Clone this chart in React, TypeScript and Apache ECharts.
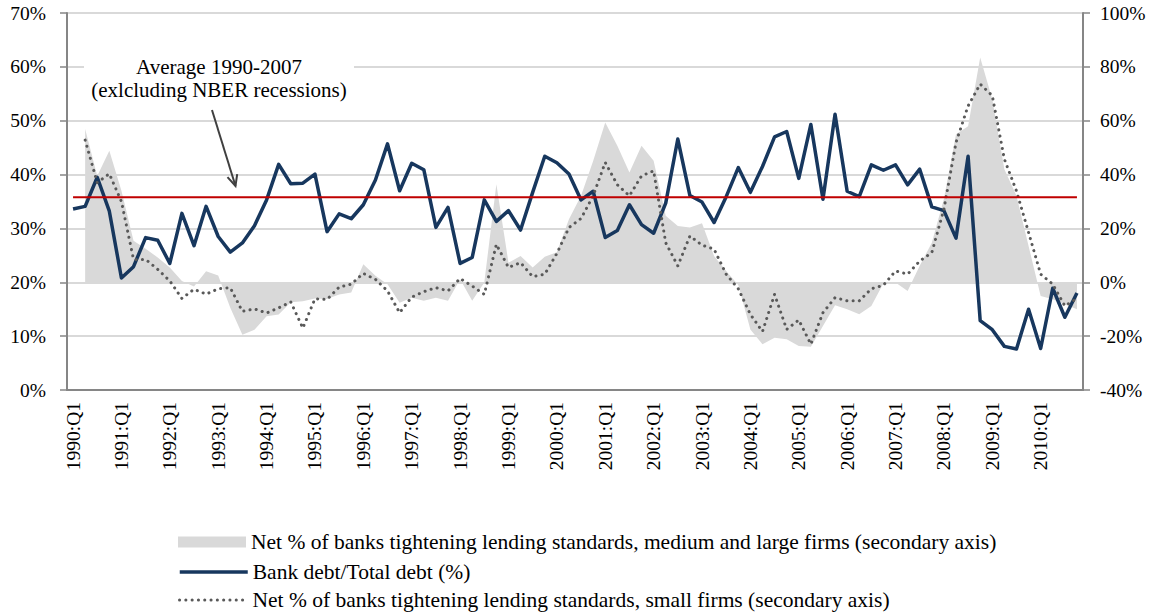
import React, { useEffect, useRef } from "react";
import * as echarts from "echarts";

// ---- data ----
const years = [1990, 1991, 1992, 1993, 1994, 1995, 1996, 1997, 1998, 1999, 2000, 2001, 2002, 2003, 2004, 2005, 2006, 2007, 2008, 2009, 2010];
const quarters = ["Q1", "Q2", "Q3", "Q4"];
const categories: string[] = [];
years.forEach((y) => quarters.forEach((q) => categories.push(`${y}:${q}`)));

const bankDebtShare = [
  33.6, 34.1, 39.5, 33.2, 20.8, 22.9, 28.3, 27.8, 23.5, 32.8, 26.8, 34.1,
  28.5, 25.6, 27.3, 30.5, 35.3, 41.9, 38.3, 38.4, 40.1, 29.4, 32.7, 31.8,
  34.4, 39.0, 45.7, 37.0, 42.1, 40.9, 30.2, 33.9, 23.5, 24.6, 35.3, 31.3,
  33.3, 29.7, 36.7, 43.4, 42.2, 40.1, 35.3, 36.9, 28.3, 29.6, 34.4, 30.7,
  29.1, 34.7, 46.6, 36.1, 34.9, 31.1, 35.9, 41.3, 36.7, 41.5, 47.0, 48.0,
  39.3, 49.3, 35.4, 51.2, 36.9, 35.9, 41.8, 40.8, 41.8, 38.1, 41.0, 34.0,
  33.3, 28.2, 43.4, 12.9, 11.2, 8.1, 7.6, 15.0, 7.7, 18.9, 13.5, 18.0,
];

const tighteningSmall = [
  null, 52.8, 37.0, 40.3, 30.0, 8.5, 8.5, 4.8, 0.5, -6.0, -2.6, -4.4,
  -2.4, -2.0, -10.8, -9.9, -11.4, -9.5, -7.3, -17.0, -6.1, -6.4, -1.8, -0.7,
  3.3, 1.1, -3.2, -11.3, -5.5, -3.5, -2.0, -3.2, 1.4, -1.4, -4.5, 14.1,
  5.5, 7.3, 2.1, 3.0, 10.7, 20.3, 23.7, 32.1, 44.5, 36.2, 32.1, 39.5,
  41.4, 14.7, 6.1, 17.2, 13.8, 12.3, 3.0, -2.4, -11.9, -18.3, -4.5, -17.5,
  -14.0, -23.0, -11.3, -5.7, -6.9, -6.9, -2.4, -1.1, 4.2, 3.0, 7.9, 11.0,
  27.1, 51.9, 65.5, 73.6, 69.3, 45.7, 33.9, 18.5, 3.0, -0.7, -8.8, -6.0,
];

const tighteningLarge = [
  null, 56.9, 39.5, 48.8, 34.0, 15.4, 12.5, 9.2, 5.5, 0.5, -1.6, 4.1,
  2.5, -9.5, -19.5, -17.6, -12.6, -12.0, -7.4, -7.0, -6.0, -6.2, -4.5, -3.8,
  6.7, 2.4, -0.7, -7.6, -5.7, -6.9, -5.7, -6.9, 1.1, -6.9, -0.1, 36.4,
  7.3, 9.8, 5.5, 9.5, 11.2, 23.4, 32.1, 45.0, 59.3, 50.7, 40.8, 50.7,
  45.1, 24.7, 20.9, 20.3, 21.9, 9.8, 4.2, -1.0, -17.5, -23.0, -20.6, -21.2,
  -23.7, -23.9, -16.2, -8.5, -10.0, -11.9, -8.8, -0.4, -0.1, -3.2, 6.1, 14.7,
  30.9, 55.0, 57.9, 83.5, 68.0, 42.0, 32.1, 13.5, -5.1, -6.3, -8.2, -10.0,
];

const averageLevel = 35.8;
const averageLine = categories.map(() => averageLevel);

const nameLarge = "Net % of banks tightening lending standards, medium and large firms (secondary axis)";
const nameBank = "Bank debt/Total debt (%)";
const nameSmall = "Net % of banks tightening lending standards, small firms (secondary axis)";

const FONT = "'Liberation Serif', 'Times New Roman', serif";
const AXIS_GRAY = "#868686";
const TICK_FONT = 19.5;

const legendBase = {
  orient: "horizontal",
  left: 173,
  itemWidth: 68,
  itemHeight: 11,
  textStyle: { fontFamily: FONT, fontSize: 21.5, color: "#000" },
};
const hiddenSymbol = { color: "rgba(0,0,0,0)", borderWidth: 0, opacity: 0 };

export default function App() {
  const ref = useRef<HTMLDivElement>(null);
  useEffect(() => {
    if (!ref.current) return;
    const chart = echarts.init(ref.current, undefined, { renderer: "svg" });
    chart.setOption({
      animation: false,
      textStyle: { fontFamily: FONT, color: "#000" },
      grid: { left: 67, right: 73, top: 13, bottom: 224, outerBoundsMode: "none" },
      legend: [
        { ...legendBase, top: 526, data: [{ name: nameLarge, icon: "rect" }] },
        {
          ...legendBase,
          top: 556,
          data: [{ name: nameBank, itemStyle: hiddenSymbol, lineStyle: { width: 3.5 } }],
        },
        {
          ...legendBase,
          top: 584,
          data: [{ name: nameSmall, itemStyle: hiddenSymbol, lineStyle: { width: 3 } }],
        },
      ],
      xAxis: {
        type: "category",
        data: categories,
        axisLine: { lineStyle: { color: AXIS_GRAY, width: 2 } },
        axisTick: { interval: 0, length: 5, lineStyle: { color: AXIS_GRAY, width: 1.5 } },
        axisLabel: {
          interval: 3,
          rotate: 90,
          margin: 12,
          fontSize: TICK_FONT,
          fontFamily: FONT,
          color: "#000",
        },
        splitLine: { show: false },
      },
      yAxis: [
        {
          type: "value",
          min: 0,
          max: 70,
          interval: 10,
          axisLine: { show: true, lineStyle: { color: AXIS_GRAY, width: 2 } },
          axisTick: { show: true, length: 7, lineStyle: { color: AXIS_GRAY, width: 1.5 } },
          axisLabel: { formatter: "{value}%", fontSize: TICK_FONT, fontFamily: FONT, color: "#000", margin: 21 },
          splitLine: { show: true, lineStyle: { color: "#d9d9d9", width: 2 } },
        },
        {
          type: "value",
          min: -40,
          max: 100,
          interval: 20,
          position: "right",
          axisLine: { show: true, lineStyle: { color: AXIS_GRAY, width: 2 } },
          axisTick: { show: true, length: 7, lineStyle: { color: AXIS_GRAY, width: 1.5 } },
          axisLabel: { formatter: "{value}%", fontSize: TICK_FONT, fontFamily: FONT, color: "#000", margin: 17 },
          splitLine: { show: false },
        },
      ],
      series: [
        {
          name: nameLarge,
          type: "line",
          yAxisIndex: 1,
          data: tighteningLarge,
          symbol: "none",
          color: "#d9d9d9",
          itemStyle: { color: "#d9d9d9" },
          lineStyle: { width: 0, color: "#d9d9d9" },
          areaStyle: { color: "#d9d9d9", opacity: 1, origin: 0 },
          z: 1,
        },
        {
          name: nameBank,
          type: "line",
          yAxisIndex: 0,
          data: bankDebtShare,
          symbol: "none",
          color: "#17375e",
          lineStyle: { width: 3.5, color: "#17375e", join: "round" },
          z: 3,
        },
        {
          name: nameSmall,
          type: "line",
          yAxisIndex: 1,
          data: tighteningSmall,
          symbol: "none",
          color: "#595959",
          lineStyle: { width: 3, color: "#595959", type: [0.1, 6.2], cap: "round" },
          z: 4,
        },
        {
          name: "Average 1990-2007",
          type: "line",
          yAxisIndex: 0,
          data: averageLine,
          symbol: "none",
          color: "#c00000",
          lineStyle: { width: 2, color: "#c00000" },
          z: 5,
        },
      ],
      graphic: [
        {
          type: "rect",
          z: 90,
          shape: { x: 84, y: 54, width: 270, height: 50 },
          style: { fill: "#fff" },
        },
        {
          type: "text",
          z: 100,
          x: 219,
          y: 67,
          style: {
            text: "Average 1990-2007",
            fontFamily: FONT,
            fontSize: 21,
            fill: "#000",
            align: "center",
            verticalAlign: "middle",
          },
        },
        {
          type: "text",
          z: 100,
          x: 219,
          y: 90,
          style: {
            text: "(exlcluding NBER recessions)",
            fontFamily: FONT,
            fontSize: 21,
            fill: "#000",
            align: "center",
            verticalAlign: "middle",
          },
        },
        {
          type: "line",
          z: 100,
          shape: { x1: 212, y1: 110, x2: 235.5, y2: 186 },
          style: { stroke: "#404040", lineWidth: 2 },
        },
        {
          type: "polyline",
          z: 100,
          shape: { points: [[227.5, 177.1], [235.5, 186], [237.2, 174.1]] },
          style: { stroke: "#404040", lineWidth: 2, fill: null },
        },
      ],
    });
    return () => chart.dispose();
  }, []);
  return (
    <div
      ref={ref}
      style={{ position: "fixed", left: 0, top: 0, width: 1156, height: 614, background: "#fff" }}
    />
  );
}
